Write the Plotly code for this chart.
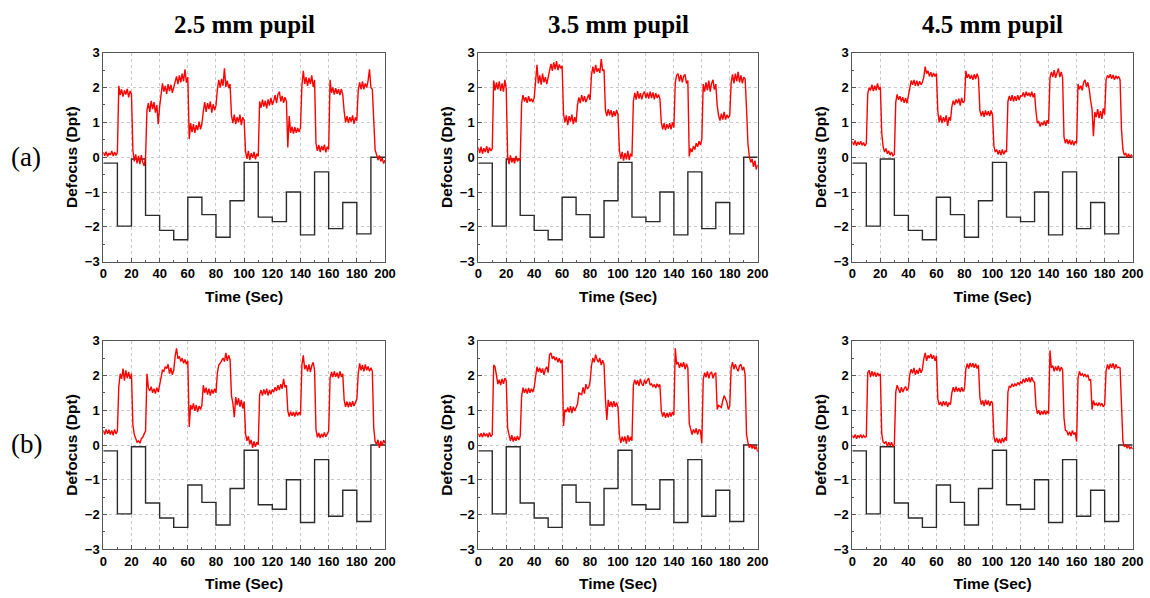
import plotly.graph_objects as go

# ---------------- data ----------------
time_s = list(range(0, 201))

step_times = [0, 10, 20, 30, 40, 50, 60, 70, 80, 90, 100, 110, 120, 130, 140, 150, 160, 170, 180, 190, 200]
stimulus_levels = [-0.17, -1.98, -0.05, -1.67, -2.10, -2.37, -1.15, -1.65, -2.30, -1.25,
                   -0.15, -1.72, -1.85, -1.00, -2.23, -0.42, -2.05, -1.30, -2.20, 0.00, 0.00]

pupil_titles = ["2.5 mm pupil", "3.5 mm pupil", "4.5 mm pupil"]
row_labels = ["(a)", "(b)"]

resp_a25 = [
    0.14, 0.04, 0.16, 0.02, 0.12, 0.06, 0.18, 0.03, 0.15, 0.05, 0.13,
    2.05, 1.78, 1.95, 1.74, 1.92, 1.80, 1.96, 1.72, 1.90, 1.82,
    0.20, -0.12, 0.08, -0.18, 0.04, -0.20, 0.06, -0.15, -0.25, 0.00,
    1.35, 1.55, 1.30, 1.62, 1.38, 1.58, 1.28, 1.50, 0.95, 1.45,
    1.85, 2.12, 1.88, 2.05, 1.82, 2.10, 1.90, 2.08, 1.85, 2.02,
    2.12, 2.32, 2.10, 2.35, 2.15, 2.40, 2.18, 2.52, 2.14, 2.30,
    0.52, 0.98, 0.72, 0.95, 0.70, 0.92, 0.78, 1.02, 0.80, 0.96,
    1.32, 1.58, 1.30, 1.55, 1.38, 1.60, 1.28, 1.52, 1.35, 1.48,
    1.95, 2.22, 2.00, 2.25, 2.05, 2.55, 2.02, 2.20, 1.98, 2.10,
    1.20, 0.98, 1.22, 0.95, 1.15, 1.00, 1.22, 0.92, 1.15, 1.05,
    0.15, -0.05, 0.18, -0.08, 0.12, -0.02, 0.15, -0.06, 0.10, 0.02,
    1.60, 1.42, 1.65, 1.45, 1.62, 1.40, 1.66, 1.48, 1.70, 1.50,
    1.62, 1.78, 1.55, 1.80, 1.88, 1.60, 1.76, 1.56, 1.72, 1.60,
    0.28, 1.18, 0.70, 0.88, 0.68, 0.86, 0.70, 0.84, 0.72, 0.85,
    2.05, 2.48, 2.10, 2.30, 2.05, 2.28, 2.10, 2.35, 2.02, 2.22,
    0.40, 0.18, 0.35, 0.15, 0.32, 0.20, 0.36, 0.14, 0.30, 0.22,
    2.22, 1.85, 2.00, 1.80, 1.98, 1.82, 1.95, 1.78, 1.96, 1.80,
    1.32, 1.00, 1.18, 0.98, 1.15, 1.02, 1.20, 0.96, 1.14, 1.05,
    1.92, 2.15, 1.95, 2.18, 1.95, 2.12, 2.00, 2.20, 2.52, 2.00,
    1.95, 0.95, 0.20, 0.08, -0.08, 0.05, -0.12, -0.02, -0.18, -0.08,
]

resp_a35 = [
    0.28, 0.12, 0.30, 0.10, 0.26, 0.15, 0.32, 0.12, 0.28, 0.18, 0.25,
    2.20, 1.92, 2.15, 1.95, 2.18, 1.90, 2.12, 1.88, 2.22, 1.96,
    0.02, -0.20, 0.05, -0.15, -0.02, -0.18, 0.04, -0.12, -0.05, -0.10,
    1.55, 1.78, 1.60, 1.72, 1.56, 1.75, 1.60, 1.68, 1.58, 1.70,
    2.15, 2.65, 2.12, 2.35, 2.08, 2.40, 2.15, 2.30, 2.10, 2.32,
    2.50, 2.68, 2.48, 2.72, 2.52, 2.76, 2.50, 2.66, 2.55, 2.62,
    1.25, 1.00, 1.20, 0.92, 1.18, 1.02, 1.22, 0.95, 1.15, 1.00,
    1.50, 1.72, 1.55, 1.78, 1.60, 1.75, 1.58, 1.72, 1.80, 1.64,
    2.35, 2.60, 2.40, 2.65, 2.45, 2.55, 2.42, 2.82, 2.48, 2.52,
    1.35, 1.18, 1.38, 1.20, 1.35, 1.15, 1.32, 1.18, 1.36, 1.22,
    0.20, -0.05, 0.15, -0.10, 0.12, -0.06, 0.18, -0.08, 0.10, 0.02,
    1.60, 1.85, 1.65, 1.90, 1.68, 1.84, 1.66, 1.82, 1.88, 1.70,
    1.85, 1.68, 1.88, 1.70, 1.86, 1.66, 1.84, 1.70, 1.80, 1.68,
    1.00, 0.80, 0.98, 0.78, 0.95, 0.82, 0.98, 0.80, 1.00, 0.85,
    2.15, 2.35, 2.40, 2.18, 2.36, 2.15, 2.32, 2.38, 2.12, 2.20,
    0.02, 0.25, 0.15, 0.32, 0.22, 0.40, 0.30, 0.46, 0.35, 0.52,
    2.10, 1.88, 2.15, 1.92, 2.20, 1.88, 2.12, 2.22, 1.94, 2.10,
    1.48, 1.20, 1.05, 1.25, 1.08, 1.30, 1.08, 1.22, 1.12, 1.20,
    2.15, 2.38, 2.12, 2.40, 2.18, 2.45, 2.15, 2.35, 2.12, 2.30,
    2.25, 1.40, 0.40, 0.02, -0.15, -0.05, -0.28, -0.10, -0.35, -0.22,
]

resp_a45 = [
    0.45, 0.35, 0.48, 0.33, 0.44, 0.36, 0.46, 0.34, 0.42, 0.32, 0.40,
    1.82, 2.00, 1.92, 2.08, 1.90, 2.05, 1.92, 2.12, 1.94, 2.02,
    0.70, 0.30, 0.15, 0.25, 0.10, 0.18, 0.06, 0.15, 0.04, 0.08,
    1.58, 1.80, 1.65, 1.75, 1.60, 1.72, 1.56, 1.70, 1.55, 1.76,
    2.02, 2.20, 2.08, 2.22, 2.05, 2.20, 2.04, 2.18, 2.08, 2.15,
    2.30, 2.60, 2.40, 2.48, 2.32, 2.44, 2.30, 2.42, 2.32, 2.40,
    1.32, 1.00, 1.20, 0.98, 1.15, 1.02, 1.20, 0.90, 1.15, 1.05,
    1.45, 1.62, 1.50, 1.66, 1.55, 1.68, 1.48, 1.70, 1.56, 1.62,
    2.48, 2.28, 2.38, 2.25, 2.36, 2.22, 2.38, 2.24, 2.40, 2.28,
    1.34, 1.18, 1.32, 1.16, 1.34, 1.20, 1.32, 1.18, 1.34, 1.22,
    0.32, 0.15, 0.22, 0.08, 0.20, 0.06, 0.22, 0.08, 0.18, 0.15,
    1.60, 1.76, 1.62, 1.78, 1.60, 1.75, 1.62, 1.78, 1.64, 1.76,
    1.75, 1.86, 1.72, 1.88, 1.76, 1.85, 1.74, 1.88, 1.72, 1.84,
    1.32, 0.98, 1.02, 0.88, 1.00, 0.92, 1.05, 0.90, 1.06, 0.96,
    2.28, 2.45, 2.30, 2.50, 2.28, 2.42, 2.55, 2.30, 2.45, 2.28,
    0.58, 0.40, 0.52, 0.38, 0.50, 0.36, 0.48, 0.34, 0.46, 0.40,
    2.10, 1.95, 2.05, 1.92, 2.15, 2.22, 2.02, 2.15, 1.95, 1.62,
    1.38, 0.60, 1.30, 1.15, 1.38, 1.12, 1.32, 1.10, 1.40, 1.22,
    2.22, 2.35, 2.28, 2.38, 2.25, 2.36, 2.22, 2.34, 2.26, 2.32,
    2.22, 0.80, 0.22, 0.06, 0.12, -0.02, 0.10, 0.00, 0.06, 0.02,
]

resp_b25 = [
    0.42, 0.30, 0.45, 0.32, 0.44, 0.30, 0.42, 0.28, 0.45, 0.32, 0.40,
    1.68, 2.05, 1.90, 2.20, 1.85, 2.15, 1.92, 2.10, 1.90, 2.05,
    0.58, 0.30, 0.15, 0.08, 0.12, 0.05, 0.18, 0.22, 0.32, 0.40,
    2.05, 1.65, 1.55, 1.68, 1.50, 1.62, 1.48, 1.65, 1.52, 1.70,
    1.92, 2.15, 2.12, 2.25, 2.20, 2.32, 2.05, 2.22, 2.02, 2.15,
    2.55, 2.78, 2.48, 2.55, 2.40, 2.50, 2.35, 2.46, 2.32, 2.42,
    0.52, 1.15, 1.02, 1.20, 0.98, 1.15, 0.95, 1.12, 1.02, 1.15,
    1.72, 1.50, 1.65, 1.45, 1.62, 1.42, 1.60, 1.48, 1.62, 1.50,
    2.08, 2.30, 2.35, 2.42, 2.50, 2.40, 2.65, 2.42, 2.58, 2.45,
    1.42, 1.20, 0.80, 1.38, 1.15, 1.35, 1.10, 1.30, 1.05, 1.25,
    0.32, 0.12, 0.25, 0.02, 0.15, -0.08, 0.10, -0.05, 0.08, 0.00,
    1.45, 1.58, 1.42, 1.60, 1.46, 1.62, 1.42, 1.58, 1.46, 1.60,
    1.52, 1.66, 1.55, 1.72, 1.58, 1.75, 1.62, 1.90, 1.66, 1.72,
    0.98, 0.82, 0.96, 0.84, 0.95, 0.82, 0.96, 0.85, 0.94, 0.86,
    2.30, 2.58, 2.18, 2.30, 2.12, 2.32, 2.10, 2.28, 2.38, 2.15,
    0.45, 0.22, 0.35, 0.20, 0.32, 0.22, 0.36, 0.24, 0.35, 0.40,
    1.92, 2.10, 1.95, 2.12, 1.96, 2.08, 1.92, 2.12, 1.96, 2.05,
    1.30, 1.10, 1.25, 1.08, 1.24, 1.10, 1.26, 1.12, 1.22, 1.32,
    2.05, 2.35, 2.15, 2.30, 2.12, 2.32, 2.15, 2.26, 2.12, 2.22,
    2.12, 0.50, 0.10, 0.02, 0.15, -0.08, 0.12, -0.02, 0.14, 0.05,
]

resp_b35 = [
    0.32, 0.24, 0.34, 0.22, 0.35, 0.25, 0.33, 0.22, 0.36, 0.24, 0.30,
    2.30, 2.25, 1.92, 1.75, 1.88, 1.72, 1.90, 1.76, 1.92, 1.85,
    0.48, 0.25, 0.12, 0.28, 0.10, 0.24, 0.12, 0.26, 0.14, 0.25,
    1.40, 1.65, 1.50, 1.62, 1.48, 1.64, 1.50, 1.62, 1.52, 1.66,
    2.02, 2.25, 2.10, 2.22, 2.08, 2.20, 2.02, 2.18, 2.25, 2.08,
    2.60, 2.65, 2.48, 2.55, 2.44, 2.52, 2.38, 2.50, 2.36, 2.45,
    0.55, 1.02, 0.95, 1.08, 0.94, 1.12, 0.92, 1.10, 0.98, 1.06,
    1.18, 1.50, 1.48, 1.45, 1.66, 1.48, 1.75, 1.62, 1.65, 1.82,
    2.28, 2.50, 2.38, 2.60, 2.45, 2.38, 2.50, 2.30, 2.44, 2.32,
    1.32, 0.72, 1.30, 1.10, 1.25, 1.08, 1.26, 1.10, 1.22, 1.08,
    0.28, 0.06, 0.24, 0.10, 0.25, 0.04, 0.28, 0.10, 0.24, 0.12,
    1.72, 1.88, 1.74, 1.86, 1.70, 1.90, 1.76, 1.70, 1.88, 1.76,
    1.86, 1.92, 1.72, 1.76, 1.68, 1.74, 1.64, 1.76, 1.68, 1.74,
    0.98, 0.82, 0.94, 0.78, 0.92, 0.80, 0.94, 0.82, 0.95, 0.86,
    2.78, 2.32, 2.38, 2.22, 2.36, 2.24, 2.38, 2.18, 2.34, 2.22,
    0.62, 0.42, 0.30, 0.45, 0.34, 0.48, 0.30, 0.44, 0.42, 0.05,
    1.88, 2.08, 1.95, 2.12, 1.92, 2.06, 2.10, 1.92, 2.04, 2.08,
    1.02, 1.14, 1.10, 1.08, 1.28, 1.42, 1.32, 1.22, 1.02, 1.12,
    2.22, 2.38, 2.18, 2.32, 2.20, 2.12, 2.28, 2.32, 2.15, 2.25,
    2.02, 0.30, 0.08, -0.08, 0.02, -0.10, 0.00, -0.12, -0.04, -0.20,
]

resp_b45 = [
    0.28, 0.20, 0.30, 0.18, 0.28, 0.22, 0.30, 0.20, 0.28, 0.22, 0.25,
    2.08, 2.15, 1.95, 2.12, 1.98, 2.10, 1.96, 2.08, 2.00, 2.04,
    0.32, 0.08, 0.05, 0.10, -0.04, 0.08, -0.02, 0.08, -0.05, 0.03,
    1.52, 1.72, 1.58, 1.50, 1.66, 1.52, 1.62, 1.68, 1.56, 1.64,
    2.02, 2.18, 2.06, 2.22, 2.02, 2.16, 2.05, 2.22, 2.08, 2.18,
    2.48, 2.65, 2.42, 2.58, 2.50, 2.62, 2.48, 2.58, 2.42, 2.56,
    1.32, 1.15, 1.24, 1.12, 1.26, 1.14, 1.25, 1.10, 1.22, 1.16,
    1.50, 1.66, 1.52, 1.68, 1.54, 1.64, 1.52, 1.66, 1.54, 1.62,
    2.18, 2.34, 2.20, 2.36, 2.24, 2.35, 2.22, 2.34, 2.20, 2.30,
    1.38, 1.16, 1.28, 1.12, 1.30, 1.16, 1.28, 1.12, 1.26, 1.20,
    0.24, 0.08, 0.20, 0.06, 0.18, 0.05, 0.20, 0.08, 0.22, 0.12,
    1.52, 1.70, 1.66, 1.76, 1.68, 1.76, 1.70, 1.80, 1.74, 1.82,
    1.78, 1.90, 1.80, 1.92, 1.82, 1.94, 1.80, 1.95, 1.84, 1.80,
    1.12, 0.90, 1.00, 0.86, 0.98, 0.88, 1.00, 0.88, 0.98, 0.90,
    2.72, 2.22, 2.28, 2.12, 2.26, 2.14, 2.28, 2.12, 2.24, 2.16,
    0.78, 0.42, 0.40, 0.28, 0.38, 0.26, 0.42, 0.30, 0.36, 0.10,
    1.92, 2.12, 2.00, 2.05, 1.98, 2.04, 1.95, 2.02, 1.86, 1.88,
    1.02, 1.28, 1.14, 1.20, 1.12, 1.22, 1.14, 1.20, 1.10, 1.16,
    2.12, 2.32, 2.18, 2.34, 2.22, 2.35, 2.18, 2.32, 2.22, 2.24,
    2.22, 1.00, 0.12, -0.05, 0.00, -0.08, -0.02, -0.10, -0.06, -0.12,
]

responses = [[resp_a25, resp_a35, resp_a45], [resp_b25, resp_b35, resp_b45]]

# ---------------- layout geometry (pixels -> paper fractions) ----------------
W, H = 1150, 598
col_px = [(103.3, 385.0), (478.3, 757.7), (852.3, 1132.7)]
row_px = [(52.7, 261.7), (340.7, 549.3)]

fig = go.Figure()

axis_font = dict(family="Liberation Sans, Arial, sans-serif", size=13, color="black", weight="bold")
title_font = dict(family="Liberation Sans, Arial, sans-serif", size=15.5, color="black", weight="bold")
frame_col = "#555555"
grid_col = "#c8c8c8"

idx = 0
for r in range(2):
    for c in range(3):
        idx += 1
        xa = "x" if idx == 1 else f"x{idx}"
        ya = "y" if idx == 1 else f"y{idx}"
        xkey = "xaxis" if idx == 1 else f"xaxis{idx}"
        ykey = "yaxis" if idx == 1 else f"yaxis{idx}"

        fig.add_trace(go.Scatter(
            x=step_times, y=stimulus_levels, mode="lines", line_shape="hv",
            line=dict(color="#2b2b2b", width=1.4), xaxis=xa, yaxis=ya,
            showlegend=False, hoverinfo="skip"))
        fig.add_trace(go.Scatter(
            x=time_s, y=responses[r][c], mode="lines",
            line=dict(color="#ff0000", width=1.4), xaxis=xa, yaxis=ya,
            showlegend=False, hoverinfo="skip"))

        x0, x1 = col_px[c]
        y0, y1 = row_px[r]
        fig.update_layout(**{
            xkey: dict(
                domain=[x0 / W, x1 / W], anchor=ya, range=[0, 200], automargin=False,
                tickmode="linear", tick0=0, dtick=20,
                ticks="inside", ticklen=4, tickwidth=1, tickcolor=frame_col,
                minor=dict(dtick=10, ticks="inside", ticklen=2, tickcolor=frame_col,
                           showgrid=False),
                showgrid=True, gridcolor=grid_col, griddash="dot", gridwidth=1,
                showline=True, linecolor=frame_col, linewidth=1, mirror=True,
                zeroline=False, tickfont=axis_font,
                title=dict(text="Time (Sec)", font=title_font, standoff=10),
            ),
            ykey: dict(
                domain=[1 - y1 / H, 1 - y0 / H], anchor=xa, range=[-3, 3], automargin=False,
                tickmode="linear", tick0=-3, dtick=1,
                ticks="inside", ticklen=4, tickwidth=1, tickcolor=frame_col,
                minor=dict(dtick=0.5, ticks="inside", ticklen=2, tickcolor=frame_col,
                           showgrid=False),
                showgrid=True, gridcolor=grid_col, griddash="dot", gridwidth=1,
                showline=True, linecolor=frame_col, linewidth=1, mirror=True,
                zeroline=False, tickfont=axis_font,
                title=dict(text="Defocus (Dpt)", font=title_font, standoff=3),
            ),
        })

annotations = []
for c, t in enumerate(pupil_titles):
    x0, x1 = col_px[c]
    annotations.append(dict(
        text=t, x=(x0 + x1) / 2 / W, y=1 - 25 / H, xref="paper", yref="paper",
        showarrow=False, xanchor="center", yanchor="middle",
        font=dict(family="Liberation Serif, Times New Roman, serif", size=25,
                  color="black", weight="bold")))
for r, lab in enumerate(row_labels):
    yc = [157, 444][r]
    annotations.append(dict(
        text=lab, x=26 / W, y=1 - yc / H, xref="paper", yref="paper",
        showarrow=False, xanchor="center", yanchor="middle",
        font=dict(family="Liberation Serif, Times New Roman, serif", size=27,
                  color="black")))

fig.update_layout(
    width=W, height=H, margin=dict(l=0, r=0, t=0, b=0),
    paper_bgcolor="white", plot_bgcolor="white",
    annotations=annotations, showlegend=False,
)

fig.write_html("out.html", config={"displayModeBar": False},
               post_script="document.body.style.margin='0px';document.body.style.padding='0px';")
